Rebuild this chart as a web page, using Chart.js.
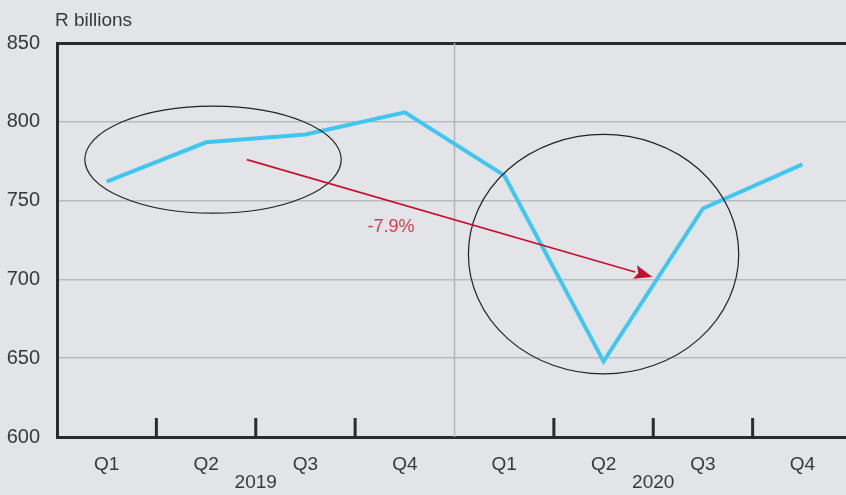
<!DOCTYPE html>
<html>
<head>
<meta charset="utf-8">
<script src="https://cdn.jsdelivr.net/npm/chart.js@4"></script>
<style>
html, body { margin: 0; padding: 0; background: #e3e4e8; overflow: hidden; }
#wrap { width: 852px; height: 495px; }
</style>
</head>
<body>
<div id="wrap"><canvas id="c"></canvas></div>
<script>
// data
const quarters = ['Q1', 'Q2', 'Q3', 'Q4', 'Q1', 'Q2', 'Q3', 'Q4'];
const years = ['2019', '2020'];
const values = [762, 787, 792, 806, 766, 648, 745, 773];
const yMin = 600, yMax = 850, yStep = 50;
const unitLabel = 'R billions';
const changeLabel = '-7.9%';

// annotations, in data units (category index, value)
const ellipses = [
    { x: 1.07, y: 776, rx: 1.29, ry: 34 },
    { x: 5.0, y: 716, rx: 1.36, ry: 76 }
];
const arrow = { from: [1.41, 776], to: [5.49, 701.5], label: [2.86, 733] };

const dark = '#2b2b2b';
const gridGray = '#b9babe';
const textCol = '#383838';
const fontFam = '"Liberation Sans", Arial, sans-serif';

// ticks between quarters + year separator
const separators = {
    id: 'separators',
    beforeDatasetsDraw(chart) {
        const { ctx, chartArea, scales: { x } } = chart;
        ctx.save();
        for (let i = 1; i < quarters.length; i++) {
            const px = (x.getPixelForValue(i - 1) + x.getPixelForValue(i)) / 2;
            ctx.beginPath();
            if (i % 4 === 0) {
                ctx.strokeStyle = '#b3b4b8';
                ctx.lineWidth = 1.5;
                ctx.moveTo(px, chartArea.top);
            } else {
                ctx.strokeStyle = dark;
                ctx.lineWidth = 3;
                ctx.moveTo(px, chartArea.bottom - 19);
            }
            ctx.lineTo(px, chartArea.bottom);
            ctx.stroke();
        }
        ctx.restore();
    }
};

const annotations = {
    id: 'annotations',
    afterDatasetsDraw(chart) {
        const { ctx, scales: { x, y } } = chart;
        const unitX = x.getPixelForValue(1) - x.getPixelForValue(0);
        const unitY = y.getPixelForValue(yMin) - y.getPixelForValue(yMin + 1);
        ctx.save();
        // ellipses
        ctx.strokeStyle = '#222';
        ctx.lineWidth = 1.2;
        ellipses.forEach(e => {
            ctx.beginPath();
            ctx.ellipse(x.getPixelForValue(0) + e.x * unitX, y.getPixelForValue(e.y),
                e.rx * unitX, e.ry * unitY, 0, 0, Math.PI * 2);
            ctx.stroke();
        });
        // arrow
        const x1 = x.getPixelForValue(0) + arrow.from[0] * unitX, y1 = y.getPixelForValue(arrow.from[1]);
        const x2 = x.getPixelForValue(0) + arrow.to[0] * unitX, y2 = y.getPixelForValue(arrow.to[1]);
        const ang = Math.atan2(y2 - y1, x2 - x1);
        const headLen = 18, headW = 7;
        ctx.strokeStyle = '#c8102e';
        ctx.fillStyle = '#c8102e';
        ctx.lineWidth = 1.6;
        ctx.beginPath();
        ctx.moveTo(x1, y1);
        ctx.lineTo(x2 - headLen * Math.cos(ang), y2 - headLen * Math.sin(ang));
        ctx.stroke();
        ctx.beginPath();
        ctx.moveTo(x2, y2);
        ctx.lineTo(x2 - headLen * Math.cos(ang) + headW * Math.sin(ang), y2 - headLen * Math.sin(ang) - headW * Math.cos(ang));
        ctx.lineTo(x2 - headLen * 0.8 * Math.cos(ang), y2 - headLen * 0.8 * Math.sin(ang));
        ctx.lineTo(x2 - headLen * Math.cos(ang) - headW * Math.sin(ang), y2 - headLen * Math.sin(ang) + headW * Math.cos(ang));
        ctx.closePath();
        ctx.fill();
        // label
        ctx.fillStyle = '#d0414f';
        ctx.font = '18px ' + fontFam;
        ctx.textAlign = 'center';
        ctx.textBaseline = 'middle';
        ctx.fillText(changeLabel, x.getPixelForValue(0) + arrow.label[0] * unitX, y.getPixelForValue(arrow.label[1]));
        ctx.restore();
    },
    afterDraw(chart) {
        const { ctx, chartArea, scales: { x } } = chart;
        ctx.save();
        ctx.fillStyle = textCol;
        ctx.font = '19px ' + fontFam;
        ctx.textAlign = 'center';
        ctx.textBaseline = 'middle';
        years.forEach((yr, g) => {
            const px = (x.getPixelForValue(g * 4 + 1) + x.getPixelForValue(g * 4 + 2)) / 2;
            ctx.fillText(yr, px, chartArea.bottom + 46);
        });
        ctx.textAlign = 'left';
        ctx.fillText(unitLabel, chartArea.left - 2, 21);
        ctx.restore();
    }
};

new Chart(document.getElementById('c'), {
    type: 'line',
    data: {
        labels: quarters,
        datasets: [{
            data: values,
            borderColor: '#3fc6f1',
            borderWidth: 4,
            pointRadius: 0,
            tension: 0,
            fill: false
        }]
    },
    options: {
        responsive: true,
        maintainAspectRatio: false,
        animation: false,
        layout: { padding: { top: 43, left: 0, right: 0, bottom: 0 } },
        plugins: {
            legend: { display: false },
            tooltip: { enabled: false }
        },
        scales: {
            x: {
                type: 'category',
                offset: true,
                grid: { display: false },
                border: { color: dark, width: 3 },
                ticks: { color: textCol, font: { family: fontFam, size: 19 }, padding: 8, maxRotation: 0 },
                afterFit(s) { s.height = 58; }
            },
            y: {
                min: yMin,
                max: yMax,
                ticks: { stepSize: yStep, color: textCol, font: { family: fontFam, size: 20 }, padding: 17 },
                grid: {
                    drawTicks: false,
                    color: c => (c.tick && c.tick.value === yMax) ? dark : gridGray,
                    lineWidth: c => (c.tick && c.tick.value === yMax) ? 3 : 1.5
                },
                border: { color: dark, width: 3 },
                afterFit(s) { s.width = 57; }
            }
        }
    },
    plugins: [separators, annotations]
});
</script>
</body>
</html>
